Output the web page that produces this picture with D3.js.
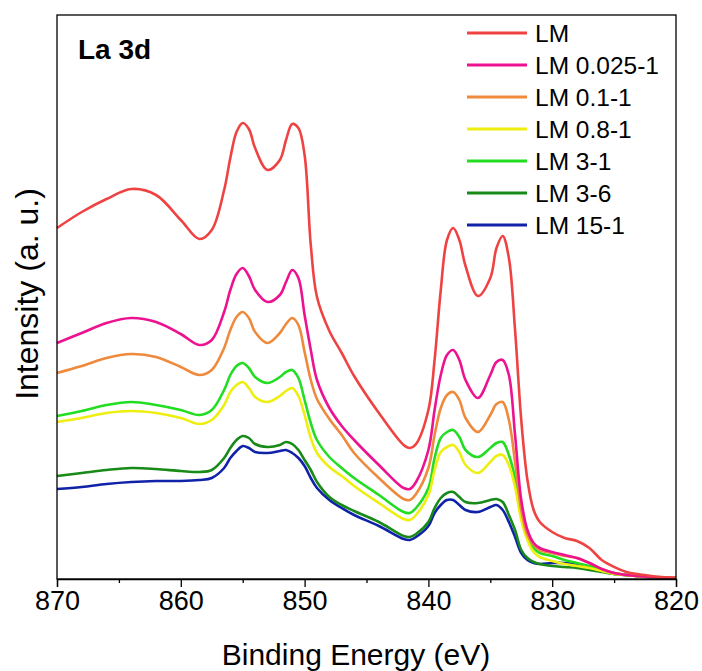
<!DOCTYPE html>
<html>
<head>
<meta charset="utf-8">
<script src="https://cdn.jsdelivr.net/npm/d3@7"></script>
<style>
  body { margin: 0; background: #fff; }
  text { font-family: Arial, "Liberation Sans", sans-serif; fill: #000; }
  .axis path, .axis line { stroke: #000; stroke-width: 1.3; }
</style>
</head>
<body>
<div id="chart"></div>
<script>
// binding energy grid (eV)
var energy = [870, 868, 866, 864, 862, 860, 858.5, 857.5, 856.5, 856, 855.5, 855, 854.5, 854, 853, 852,
  851.5, 851, 850.5, 850, 849.5, 849, 848, 847, 846, 844, 842, 841.5, 841, 840, 839.5, 839, 838.5, 838,
  837.5, 837, 836, 835, 834.5, 834, 833.5, 833, 832.5, 832, 831.5, 831, 830, 829, 828, 827, 826, 825,
  824, 822, 820];

// intensities (a. u.)
var lm = [351, 367, 380, 390, 384, 359, 340, 349, 389, 421, 447, 456, 450, 431, 409, 419, 439, 455, 451, 424,
  334, 282, 248, 226, 203, 166, 134, 131, 135, 169, 219, 289, 339, 351, 339, 313, 283, 301, 331, 343,
  321, 249, 159, 99, 69, 57, 47, 41, 38, 31, 19, 12, 7, 3, 1];
var lm0025 = [236, 246, 256, 261, 257, 245, 234, 239, 267, 289, 305, 311, 303, 289, 277, 284, 297, 309, 301, 264,
  229, 199, 171, 153, 139, 114, 91, 90, 97, 129, 169, 204, 224, 229, 219, 199, 181, 204, 217, 219,
  204, 144, 79, 49, 36, 31, 27, 24, 21, 16, 10, 6, 4, 2, 1];
var lm01 = [206, 213, 221, 225, 222, 212, 204, 209, 231, 249, 262, 267, 261, 247, 236, 246, 255, 261, 254, 227,
  199, 180, 160, 144, 126, 101, 80, 79, 85, 111, 144, 171, 184, 187, 179, 161, 147, 164, 175, 177,
  159, 117, 69, 44, 34, 29, 26, 23, 21, 16, 10, 6, 4, 2, 1];
var lm08 = [157, 161, 166, 168, 166, 161, 155, 159, 174, 187, 194, 197, 191, 182, 177, 183, 188, 191, 183, 164,
  141, 126, 112, 103, 93, 76, 60, 59, 64, 84, 109, 127, 132, 134, 127, 114, 106, 117, 123, 124,
  114, 92, 59, 39, 27, 22, 18, 15, 13, 11, 8, 5, 4, 2, 1];
var lm31 = [163, 168, 174, 177, 174, 169, 164, 169, 189, 204, 213, 216, 211, 202, 196, 202, 207, 209, 201, 179,
  156, 139, 122, 111, 101, 84, 67, 66, 71, 91, 121, 141, 147, 149, 142, 129, 122, 131, 136, 137,
  124, 101, 64, 44, 31, 26, 23, 19, 16, 13, 9, 6, 4, 2, 1];
var lm36 = [103, 106, 109, 111, 110, 108, 107, 109, 121, 131, 139, 143, 141, 135, 132, 134, 137, 135, 129, 119,
  109, 97, 82, 74, 68, 57, 43, 42, 45, 57, 71, 81, 86, 87, 82, 77, 76, 79, 80, 77,
  64, 49, 29, 21, 17, 15, 13, 12, 11, 9, 7, 5, 4, 2, 1];
var lm151 = [90, 92, 95, 97, 98, 98, 99, 101, 111, 121, 128, 133, 131, 127, 126, 128, 129, 126, 121, 113,
  101, 91, 79, 71, 64, 53, 40, 39, 42, 53, 66, 74, 79, 79, 74, 69, 67, 72, 74, 69,
  57, 42, 26, 19, 16, 15, 16, 16, 15, 12, 8, 5, 4, 2, 1];

var names = ["LM", "LM 0.025-1", "LM 0.1-1", "LM 0.8-1", "LM 3-1", "LM 3-6", "LM 15-1"];
var values = [lm, lm0025, lm01, lm08, lm31, lm36, lm151];
var colors = ["#ef4343", "#ec1290", "#ef8a3c", "#eeee10", "#22dd22", "#178a17", "#1022a8"];

var majorTicks = [870, 860, 850, 840, 830, 820];
var minorTicks = [865, 855, 845, 835, 825];

var width = 702, height = 671;
var margin = {top: 15, right: 26, bottom: 92, left: 57};
var plotW = width - margin.left - margin.right;
var plotH = height - margin.top - margin.bottom;

var svg = d3.select("#chart").append("svg")
    .attr("width", width)
    .attr("height", height);

var g = svg.append("g")
    .attr("transform", "translate(" + margin.left + "," + margin.top + ")");

var x = d3.scaleLinear().domain([870, 820]).range([0, plotW]);
var y = d3.scaleLinear().domain([0, 564]).range([plotH, 0]);

var line = d3.line()
    .x(function(d){ return x(d[0]); })
    .y(function(d){ return y(d[1]); })
    .curve(d3.curveCatmullRom.alpha(0.5));

// draw the last series first so the upper ones sit on top
for (var i = values.length - 1; i >= 0; i--) {
    var pts = energy.map(function(e, k){ return [e, values[i][k]]; });
    g.append("path")
        .datum(pts)
        .attr("d", line)
        .attr("fill", "none")
        .attr("stroke", colors[i])
        .attr("stroke-width", 2.6)
        .attr("stroke-linejoin", "round");
}

// axes
var xAxis = g.append("g")
    .attr("class", "axis")
    .attr("transform", "translate(0," + plotH + ")")
    .call(d3.axisBottom(x).tickValues(majorTicks).tickSize(8).tickPadding(4).tickFormat(d3.format("d")));
xAxis.selectAll("text")
    .style("font-size", "27px");

g.append("g")
    .attr("class", "axis")
    .attr("transform", "translate(0," + plotH + ")")
    .call(d3.axisBottom(x).tickValues(minorTicks).tickSize(4).tickFormat(""))
    .select(".domain").remove();

// frame
g.append("rect")
    .attr("width", plotW)
    .attr("height", plotH)
    .attr("fill", "none")
    .attr("stroke", "#000")
    .attr("stroke-width", 1.3);

// labels
svg.append("text")
    .attr("x", 356)
    .attr("y", 665)
    .attr("text-anchor", "middle")
    .style("font-size", "30px")
    .text("Binding Energy (eV)");

svg.append("text")
    .attr("transform", "translate(38," + (margin.top + plotH / 2 - 3) + ") rotate(-90)")
    .attr("text-anchor", "middle")
    .style("font-size", "32px")
    .text("Intensity (a. u.)");

svg.append("text")
    .attr("x", 78)
    .attr("y", 59)
    .style("font-size", "28px")
    .style("font-weight", "bold")
    .text("La 3d");

// legend
var legend = svg.append("g").attr("transform", "translate(467,33)");
names.forEach(function(n, i){
    var row = legend.append("g").attr("transform", "translate(0," + (i * 32) + ")");
    row.append("line")
        .attr("x1", 0).attr("x2", 60)
        .attr("stroke", colors[i])
        .attr("stroke-width", 3);
    row.append("text")
        .attr("x", 68)
        .attr("y", 8.5)
        .style("font-size", "24.5px")
        .text(n);
});
</script>
</body>
</html>
